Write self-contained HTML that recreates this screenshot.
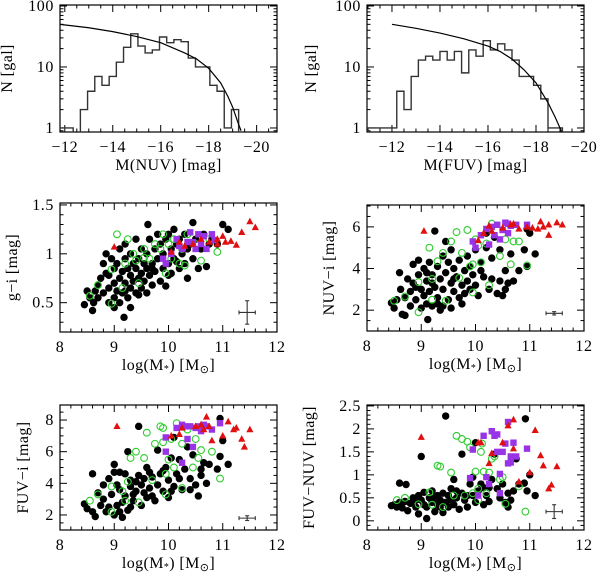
<!DOCTYPE html>
<html><head><meta charset="utf-8">
<style>
html,body{margin:0;padding:0;background:#fff;}
svg{display:block;font-family:"Liberation Serif",serif;}
</style></head>
<body>
<svg id="fig" width="600" height="574" viewBox="0 0 600 574" xmlns="http://www.w3.org/2000/svg"></svg>
<script>
// ---------- Histogram data ----------
const nuvBinStart = -11.75;
const nuvBinWidth = 0.3;
const nuvCounts = [1,1,0,2,4,7,5,7,12,21,35,22,17,19,31,25,28,26,14,10,10,5,4,1,2];
const nuvFitMag = [-11.8,-13,-14,-15,-16,-17,-17.5,-18,-18.5,-18.8,-19,-19.2,-19.35];
const nuvFitN = [50,44,38,31.5,25,17,13.5,9.5,5.5,3.3,2.2,1.3,0.9];

const fuvBinStart = -11.0;
const fuvBinWidth = 0.3;
const fuvCounts = [1,1,1,1,4,2,7,13,15,13,18,13,18,8,19,15,27,19,24,19,13,7,7,5,3,1,1];
const fuvFitMag = [-12,-13,-14,-15,-16,-16.5,-17,-17.5,-18,-18.5,-18.8,-19,-19.1];
const fuvFitN = [50,43,36,29,22,18,13.5,9,5.5,2.6,1.5,1,0.8];

// ---------- Scatter data: [log M*, colour] ----------
const giBlack = [[8.45,0.48],[8.5,0.62],[8.55,0.55],[8.6,0.42],[8.62,0.5],[8.65,0.62],[8.7,0.68],[8.7,0.55],[8.75,0.75],[8.8,0.9],[8.8,0.6],[8.85,0.8],[8.85,1.0],[8.9,0.78],[8.9,0.5],[8.95,0.95],[9.0,0.7],[9.0,0.85],[9.0,0.55],[9.05,0.62],[9.05,0.9],[9.1,0.75],[9.1,1.05],[9.1,0.5],[9.15,0.6],[9.15,0.82],[9.18,0.35],[9.2,0.7],[9.2,0.95],[9.2,1.1],[9.25,0.55],[9.25,0.85],[9.3,0.65],[9.3,0.78],[9.3,1.0],[9.35,0.9],[9.35,0.72],[9.4,0.6],[9.4,0.85],[9.4,1.15],[9.45,0.75],[9.45,0.95],[9.5,0.8],[9.5,0.65],[9.5,1.05],[9.55,0.9],[9.55,0.72],[9.6,0.85],[9.6,1.0],[9.62,1.3],[9.65,0.78],[9.65,1.15],[9.7,0.9],[9.7,0.68],[9.75,1.05],[9.75,0.82],[9.8,0.95],[9.8,1.2],[9.85,0.72],[9.85,1.1],[9.9,0.85],[9.9,1.0],[9.95,0.67],[9.95,1.15],[10.0,0.9],[10.0,1.2],[10.05,1.05],[10.05,0.8],[10.1,1.25],[10.1,0.95],[10.15,1.1],[10.2,0.85],[10.2,1.15],[10.25,1.0],[10.3,0.9],[10.3,1.2],[10.35,0.75],[10.4,1.1],[10.45,1.32],[10.45,0.95],[10.5,1.15],[10.55,0.85],[10.6,1.05],[10.65,1.2],[10.7,0.87],[10.75,1.1],[10.8,1.15],[10.9,1.1],[11.0,1.3],[11.1,1.25],[10.0,0.78],[9.6,0.6],[9.3,0.45],[9.0,0.45],[8.9,0.65],[9.2,0.62],[9.45,0.58],[9.7,0.85],[10.15,0.92],[10.35,1.05]];
const giGreen = [[8.55,0.57],[8.7,0.68],[8.95,0.84],[8.95,0.49],[9.05,1.2],[9.15,0.65],[9.2,0.9],[9.25,1.15],[9.4,0.93],[9.45,0.7],[9.55,1.05],[9.65,0.95],[9.75,1.1],[9.85,1.05],[9.9,1.2],[9.95,0.8],[10.0,1.1],[10.05,0.95],[10.1,1.15],[10.2,0.9],[10.25,1.05],[10.3,0.88],[10.35,1.2],[10.5,1.1],[10.6,0.93],[10.75,1.15],[10.9,1.02],[9.35,1.0],[9.55,0.96]];
const giPurple = [[9.9,0.95],[9.95,0.9],[10.15,1.15],[10.25,1.05],[10.4,1.22],[10.45,1.12],[10.55,1.2],[10.6,1.1],[10.65,1.18],[10.7,1.05],[10.8,1.2],[10.85,1.14],[10.5,1.05],[10.35,1.12],[10.2,1.08],[10.05,1.0]];
const giRed = [[9.0,1.07],[10.05,1.02],[10.2,1.12],[10.3,1.08],[10.6,1.15],[10.75,1.12],[10.9,1.1],[11.0,1.18],[11.05,1.12],[11.15,1.13],[11.25,1.09],[11.35,1.22],[11.5,1.33],[11.6,1.27],[10.9,1.15],[10.45,1.1]];
const giErr = [11.45,0.4,0.15,0.12];

const nuviBlack = [[8.45,2.35],[8.5,2.1],[8.55,2.5],[8.6,3.8],[8.62,3.0],[8.65,1.8],[8.7,2.6],[8.7,1.75],[8.75,3.5],[8.8,2.9],[8.8,2.2],[8.85,4.2],[8.85,3.3],[8.9,2.5],[8.95,4.4],[8.95,3.7],[9.0,3.0],[9.0,2.1],[9.05,4.0],[9.05,2.7],[9.1,3.4],[9.1,2.3],[9.12,1.55],[9.15,4.3],[9.15,2.9],[9.2,3.7],[9.2,2.2],[9.25,5.8],[9.25,3.1],[9.3,4.1],[9.3,2.6],[9.35,3.5],[9.35,2.0],[9.4,4.6],[9.4,3.0],[9.45,5.3],[9.45,3.8],[9.5,2.5],[9.5,4.3],[9.55,3.3],[9.55,2.1],[9.6,4.0],[9.6,2.9],[9.65,3.6],[9.7,4.4],[9.7,2.6],[9.75,3.2],[9.8,3.9],[9.8,2.8],[9.85,4.6],[9.85,3.4],[9.9,3.0],[9.9,4.1],[9.95,3.7],[10.0,4.9],[10.0,3.2],[10.05,2.7],[10.1,4.3],[10.15,3.6],[10.2,5.0],[10.25,3.0],[10.3,4.5],[10.35,5.5],[10.4,2.8],[10.45,3.4],[10.45,4.9],[10.5,2.7],[10.55,3.9],[10.6,3.3],[10.65,4.7],[10.7,3.4],[10.8,3.9],[10.9,4.9],[10.95,4.1],[11.0,5.7],[11.1,4.7],[10.95,5.9],[10.2,5.7],[9.55,4.9],[9.1,3.8],[8.9,3.1],[9.2,3.3],[9.3,2.3],[9.4,2.2],[9.6,3.5],[9.75,2.3],[10.1,3.9],[10.3,3.5],[10.55,3.0]];
const nuviGreen = [[8.5,2.45],[8.7,2.65],[8.95,1.9],[8.95,3.35],[9.15,5.0],[9.2,2.5],[9.2,3.5],[9.3,4.35],[9.4,4.75],[9.45,2.45],[9.55,5.3],[9.65,5.75],[9.7,3.55],[9.75,4.75],[9.85,5.85],[9.95,4.2],[9.95,2.85],[10.05,5.1],[10.1,4.3],[10.2,5.2],[10.25,3.2],[10.3,6.15],[10.45,4.6],[10.55,5.4],[10.65,4.2],[10.7,5.3],[10.8,5.3],[10.95,4.15],[10.0,5.4],[9.9,4.1]];
const nuviPurple = [[9.95,5.3],[10.0,5.0],[10.1,5.6],[10.2,5.9],[10.3,6.0],[10.35,5.6],[10.4,6.1],[10.5,5.85],[10.55,6.2],[10.6,5.7],[10.65,6.05],[10.75,6.1],[10.95,6.1],[10.45,5.4],[10.25,5.15],[10.6,6.15]];
const nuviRed = [[9.05,5.8],[10.05,5.35],[10.15,5.7],[10.25,6.05],[10.3,5.8],[10.5,5.95],[10.65,6.1],[10.8,5.9],[10.95,6.0],[11.05,5.95],[11.15,5.9],[11.25,6.0],[11.2,6.25],[11.35,6.1],[11.5,6.2],[11.6,6.1],[11.35,5.6],[10.7,6.15]];
const nuviErr = [11.45,1.85,0.15,0.08];

const fuviBlack = [[8.45,2.7],[8.5,2.4],[8.6,4.6],[8.6,2.2],[8.65,1.9],[8.7,3.4],[8.75,2.6],[8.8,3.0],[8.8,3.9],[8.85,2.2],[8.9,4.3],[8.95,3.3],[9.0,2.0],[9.0,4.7],[9.0,5.2],[9.05,2.6],[9.1,3.6],[9.1,4.7],[9.15,1.85],[9.15,2.8],[9.2,3.2],[9.2,4.6],[9.25,2.3],[9.25,6.0],[9.3,3.8],[9.3,4.2],[9.35,2.9],[9.4,3.5],[9.45,7.6],[9.45,4.5],[9.5,2.6],[9.5,3.9],[9.55,4.3],[9.6,3.1],[9.6,5.0],[9.65,3.7],[9.7,4.4],[9.75,2.9],[9.8,6.1],[9.8,3.9],[9.85,4.6],[9.9,3.5],[9.95,5.0],[10.0,4.2],[10.0,3.1],[10.05,5.6],[10.1,3.8],[10.1,6.9],[10.15,4.6],[10.2,5.5],[10.25,3.6],[10.3,4.9],[10.35,6.3],[10.4,4.3],[10.45,5.8],[10.5,3.9],[10.55,3.2],[10.6,4.9],[10.65,5.3],[10.7,4.0],[10.75,5.2],[10.9,4.9],[10.95,5.7],[10.95,8.1],[11.0,6.7],[11.1,5.2],[8.9,2.5],[9.1,2.2],[9.3,2.5],[9.4,4.1],[9.55,3.4],[9.7,3.2],[9.9,4.8],[10.2,4.3],[10.4,3.6],[10.6,4.5],[9.05,3.9],[9.35,3.3],[9.65,4.7],[10.05,3.5]];
const fuviGreen = [[8.55,2.9],[8.7,3.3],[8.95,2.2],[8.95,3.8],[9.15,3.5],[9.2,2.9],[9.25,4.1],[9.3,5.6],[9.4,6.0],[9.45,2.8],[9.55,5.6],[9.6,7.2],[9.7,4.2],[9.75,6.5],[9.85,7.6],[9.9,6.6],[9.95,4.6],[9.95,3.3],[10.0,5.5],[10.05,6.8],[10.1,5.0],[10.15,7.8],[10.25,6.5],[10.25,3.7],[10.35,7.4],[10.45,5.0],[10.5,6.8],[10.55,5.6],[10.6,6.1],[10.8,6.0],[10.95,4.3],[9.9,7.5]];
const fuviPurple = [[9.95,6.9],[9.95,6.0],[10.15,7.5],[10.25,5.3],[10.3,7.6],[10.35,6.8],[10.4,7.6],[10.45,6.3],[10.5,7.5],[10.55,7.6],[10.6,7.3],[10.7,7.6],[10.8,7.4],[10.95,7.8],[10.25,7.7],[10.65,7.7]];
const fuviRed = [[9.05,7.6],[10.05,7.0],[10.2,7.1],[10.25,7.5],[10.5,7.6],[10.6,7.7],[10.7,8.2],[10.75,7.6],[10.8,6.7],[11.0,7.0],[11.1,7.9],[11.2,7.4],[11.25,7.5],[11.35,6.8],[11.4,6.3],[11.5,7.4],[10.65,7.4]];
const fuviErr = [11.45,1.8,0.15,0.15];

const fnBlack = [[8.45,0.33],[8.5,0.35],[8.55,0.3],[8.6,0.82],[8.6,0.4],[8.65,0.28],[8.7,0.42],[8.72,0.79],[8.75,0.22],[8.8,0.38],[8.85,0.5],[8.9,0.3],[8.95,0.15],[8.95,0.55],[9.0,1.4],[9.0,0.45],[9.05,0.62],[9.1,0.3],[9.1,0.05],[9.15,0.5],[9.2,0.4],[9.2,0.65],[9.25,0.2],[9.3,0.55],[9.3,0.35],[9.35,0.45],[9.4,0.6],[9.4,0.18],[9.45,2.28],[9.45,0.4],[9.5,0.55],[9.5,0.3],[9.55,0.7],[9.55,0.45],[9.6,0.9],[9.6,0.35],[9.65,0.5],[9.7,0.25],[9.75,1.45],[9.75,0.6],[9.8,0.45],[9.85,0.3],[9.9,0.8],[9.95,0.55],[9.95,0.95],[10.0,1.7],[10.0,0.4],[10.05,0.65],[10.1,0.8],[10.15,0.35],[10.2,0.55],[10.25,0.42],[10.3,0.9],[10.35,1.45],[10.4,0.7],[10.45,0.5],[10.5,0.8],[10.55,0.4],[10.6,0.6],[10.65,0.45],[10.7,0.65],[10.75,1.35],[10.8,0.8],[10.9,0.82],[10.92,2.22],[10.95,0.65],[11.0,1.0],[11.1,0.55],[9.25,0.5],[9.65,0.65],[9.85,0.55],[10.15,0.72],[9.05,0.35],[9.35,0.3],[8.9,0.45],[10.6,0.3],[10.25,0.72]];
const fnGreen = [[8.55,0.45],[8.7,0.5],[8.95,0.36],[9.15,0.62],[9.2,0.35],[9.3,1.2],[9.35,1.18],[9.4,0.3],[9.55,1.05],[9.65,1.85],[9.75,1.78],[9.8,0.55],[9.85,1.72],[9.9,1.6],[9.95,0.6],[10.0,1.07],[10.05,0.7],[10.1,1.5],[10.15,1.07],[10.2,0.6],[10.25,1.05],[10.3,1.35],[10.35,1.4],[10.45,0.9],[10.5,0.95],[10.55,0.37],[10.8,0.75],[10.92,0.2],[10.05,0.45],[10.12,1.68],[9.6,0.55]];
const fnPurple = [[9.9,0.93],[9.95,1.55],[10.05,0.55],[10.15,1.85],[10.2,0.95],[10.25,0.8],[10.3,1.95],[10.35,1.85],[10.4,1.5],[10.45,1.02],[10.45,0.6],[10.5,1.5],[10.55,1.68],[10.6,2.15],[10.6,1.25],[10.65,1.4],[10.7,1.7],[10.75,1.4],[10.95,1.57],[10.65,1.27],[10.4,1.88]];
const fnRed = [[9.0,1.82],[10.05,1.7],[10.1,1.7],[10.25,1.25],[10.3,1.47],[10.5,1.7],[10.6,2.07],[10.7,2.2],[10.7,1.57],[10.8,0.85],[11.0,1.05],[11.1,1.97],[11.2,1.42],[11.25,1.2],[11.35,0.7],[11.4,0.78],[11.5,1.18]];
const fnErr = [11.45,0.2,0.15,0.15];

// tick labels
const magTicks = [-12,-14,-16,-18,-20];
const logNTicks = [1,10,100];
const massTicks = [8,9,10,11,12];
const giTicks = [0.5,1,1.5];
const nuviTicks = [2,4,6];
const fuviTicks = [2,4,6,8];
const fnTicks = [0,0.5,1,1.5,2,2.5];

const NS = 'http://www.w3.org/2000/svg';
const svg = document.getElementById('fig');
const FS = 16;
function mk(tag, attrs, parent){
  const e = document.createElementNS(NS, tag);
  for (const k in attrs) e.setAttribute(k, attrs[k]);
  (parent||svg).appendChild(e);
  return e;
}
function fmt(v){ const s = String(v); return v<0 ? '\u2212'+s.slice(1) : s; }

function makePanel(cfg){
  const g = mk('g', {});
  
  
  const {x0,x1,y0,y1} = cfg;
  const sx = v => x0 + (v - cfg.xd[0])/(cfg.xd[1]-cfg.xd[0])*(x1-x0);
  const syLin = v => y1 - (v - cfg.yd[0])/(cfg.yd[1]-cfg.yd[0])*(y1-y0);
  const sy = cfg.log ? (v => syLin(Math.log10(v))) : syLin;
  const cid = 'clip-'+cfg.name;
  const cp = mk('clipPath', {id:cid}, g);
  mk('rect', {x:x0, y:y0, width:x1-x0, height:y1-y0}, cp);
  const tg = mk('g', {stroke:'#000','stroke-width':1}, g);
  
  
  const xlo = Math.min(cfg.xd[0],cfg.xd[1]), xhi = Math.max(cfg.xd[0],cfg.xd[1]);
  for (let v = Math.ceil(xlo/cfg.xMinor-1e-6)*cfg.xMinor; v <= xhi+1e-6; v += cfg.xMinor){
    const major = Math.abs(v/cfg.xMajor - Math.round(v/cfg.xMajor)) < 1e-6;
    const L = major ? 7 : 3.5, px = sx(v);
    mk('line', {x1:px, x2:px, y1:y1, y2:y1-L}, tg);
    mk('line', {x1:px, x2:px, y1:y0, y2:y0+L}, tg);
  }
  if (cfg.log){
    for (let d = -1; d <= 2; d++) for (let m = 1; m < 10; m++){
      const v = m*Math.pow(10,d), lv = Math.log10(v);
      if (lv < cfg.yd[0] || lv > cfg.yd[1]) continue;
      const L = m===1 ? 7 : 3.5, py = sy(v);
      mk('line', {x1:x0, x2:x0+L, y1:py, y2:py}, tg);
      mk('line', {x1:x1, x2:x1-L, y1:py, y2:py}, tg);
    }
  } else {
    for (let v = Math.ceil(cfg.yd[0]/cfg.yMinor-1e-6)*cfg.yMinor; v <= cfg.yd[1]+1e-6; v += cfg.yMinor){
      const major = Math.abs(v/cfg.yMajor - Math.round(v/cfg.yMajor)) < 1e-6;
      const L = major ? 7 : 3.5, py = sy(v);
      mk('line', {x1:x0, x2:x0+L, y1:py, y2:py}, tg);
      mk('line', {x1:x1, x2:x1-L, y1:py, y2:py}, tg);
    }
  }
  const fr = mk('rect', {x:x0, y:y0, width:x1-x0, height:y1-y0, fill:'none', stroke:'#000','stroke-width':1.2}, g);
  
  
  cfg.xTicks.forEach(v => {
    const t = mk('text', {x:sx(v), y:y1+20, 'font-size':FS, 'letter-spacing':0.6, 'text-anchor':'middle'}, g);
    t.textContent = fmt(v);
    
    
  });
  cfg.yTicks.forEach(v => {
    const t = mk('text', {x:x0-6, y:sy(v)+5, 'font-size':FS, 'letter-spacing':0.6, 'text-anchor':'end'}, g);
    t.textContent = fmt(v);
    
    
  });
  const xt = mk('text', {x:(x0+x1)/2, y:y1+38, 'font-size':FS, 'letter-spacing':0.4, 'text-anchor':'middle'}, g);
  
  
  if (cfg.xTitle === 'mass'){
    xt.appendChild(document.createTextNode('log(M'));
    const s1 = mk('tspan', {'font-size':10, dy:2}, xt); s1.textContent='*';
    const s2 = mk('tspan', {dy:-2}, xt); s2.textContent=') [M';
    const s3 = mk('tspan', {'font-size':11, dy:3}, xt); s3.textContent='\u2299';
    const s4 = mk('tspan', {dy:-3}, xt); s4.textContent=']';
  } else xt.textContent = cfg.xTitle;
  const yc = (y0+y1)/2;
  const yt = mk('text', {x:cfg.ytx, y:yc, 'font-size':FS, 'letter-spacing':0.4, 'text-anchor':'middle', transform:`rotate(-90 ${cfg.ytx} ${yc})`}, g);
  yt.textContent = cfg.yTitle;
  
  
  const plot = mk('g', {'clip-path':`url(#${cid})`}, g);
  return {g: plot, sx, sy, cfg};
}

function drawHist(p, start, width, counts, name){
  const {sx, sy, cfg} = p;
  const bottom = cfg.y1 + 2;
  const yy = c => c > 0 ? sy(c) : bottom;
  let d = `M${sx(start)},${bottom}`;
  counts.forEach((c,i) => {
    const a = start - i*width, b = start - (i+1)*width;
    d += ` L${sx(a)},${yy(c)} L${sx(b)},${yy(c)}`;
  });
  d += ` L${sx(start - counts.length*width)},${bottom}`;
  const path = mk('path', {d, fill:'none', stroke:'#333', 'stroke-width':1.4}, p.g);
  
  
}
function drawCurve(p, xs, ys, name){
  const pts = xs.map((x,i) => `${p.sx(x)},${p.sy(ys[i])}`).join(' ');
  const pl = mk('polyline', {points:pts, fill:'none', stroke:'#000', 'stroke-width':1.2}, p.g);
  
  
}
function drawPoints(p, data, kind, name){
  const grp = mk('g', {}, p.g);
  
  
  data.forEach(([x,y]) => {
    const cx = p.sx(x), cy = p.sy(y);
    let e;
    if (kind === 'black') e = mk('circle', {cx, cy, r:3.7, fill:'#000'}, grp);
    else if (kind === 'green') e = mk('circle', {cx, cy, r:3.4, fill:'none', stroke:'#2ecc2e', 'stroke-width':1.1}, grp);
    else if (kind === 'purple') e = mk('rect', {x:cx-3.2, y:cy-3.2, width:6.4, height:6.4, fill:'#9933e6'}, grp);
    else e = mk('polygon', {points:`${cx},${cy-3.9} ${cx-3.6},${cy+2.7} ${cx+3.6},${cy+2.7}`, fill:'#e01010'}, grp);
    
    
  });
}
function drawErr(p, err){
  const [x,y,dx,dy] = err;
  const grp = mk('g', {stroke:'#333','stroke-width':1.1}, p.g);
  
  
  const cx=p.sx(x), cy=p.sy(y), xa=p.sx(x-dx), xb=p.sx(x+dx), ya=p.sy(y-dy), yb=p.sy(y+dy);
  mk('line',{x1:xa,x2:xb,y1:cy,y2:cy},grp);
  mk('line',{x1:cx,x2:cx,y1:ya,y2:yb},grp);
  mk('line',{x1:xa,x2:xa,y1:cy-2,y2:cy+2},grp);
  mk('line',{x1:xb,x2:xb,y1:cy-2,y2:cy+2},grp);
  mk('line',{x1:cx-2,x2:cx+2,y1:ya,y2:ya},grp);
  mk('line',{x1:cx-2,x2:cx+2,y1:yb,y2:yb},grp);
}

const pN = makePanel({name:'nuv-histogram', x0:60,x1:277,y0:5,y1:132, xd:[-11.8,-20.85], yd:[-0.066,2.016], log:true, xMajor:2, xMinor:0.5, xTicks:magTicks, yTicks:logNTicks, xTitle:'M(NUV) [mag]', yTitle:'N [gal]', ytx:12});
drawHist(pN, nuvBinStart, nuvBinWidth, nuvCounts, 'nuv-histogram-bars');
drawCurve(pN, nuvFitMag, nuvFitN, 'nuv-fit-curve');

const pF = makePanel({name:'fuv-histogram', x0:367,x1:584,y0:5,y1:132, xd:[-10.96,-20.0], yd:[-0.066,2.016], log:true, xMajor:2, xMinor:0.5, xTicks:magTicks, yTicks:logNTicks, xTitle:'M(FUV) [mag]', yTitle:'N [gal]', ytx:316});
drawHist(pF, fuvBinStart, fuvBinWidth, fuvCounts, 'fuv-histogram-bars');
drawCurve(pF, fuvFitMag, fuvFitN, 'fuv-fit-curve');

const panels = [
  {cfg:{name:'g-i-panel', x0:60,x1:277,y0:203,y1:332, xd:[8,12], yd:[0.2,1.52], xMajor:1, xMinor:0.2, yMajor:0.5, yMinor:0.1, xTicks:massTicks, yTicks:giTicks, xTitle:'mass', yTitle:'g\u2212i [mag]', ytx:17}, b:giBlack,gr:giGreen,pu:giPurple,r:giRed,e:giErr},
  {cfg:{name:'nuv-i-panel', x0:367,x1:584,y0:205,y1:331, xd:[8,12], yd:[1,7.05], xMajor:1, xMinor:0.2, yMajor:2, yMinor:0.5, xTicks:massTicks, yTicks:nuviTicks, xTitle:'mass', yTitle:'NUV\u2212i [mag]', ytx:334}, b:nuviBlack,gr:nuviGreen,pu:nuviPurple,r:nuviRed,e:nuviErr},
  {cfg:{name:'fuv-i-panel', x0:60,x1:277,y0:405,y1:530, xd:[8,12], yd:[1.05,8.95], xMajor:1, xMinor:0.2, yMajor:2, yMinor:0.5, xTicks:massTicks, yTicks:fuviTicks, xTitle:'mass', yTitle:'FUV\u2212i [mag]', ytx:28}, b:fuviBlack,gr:fuviGreen,pu:fuviPurple,r:fuviRed,e:fuviErr},
  {cfg:{name:'fuv-nuv-panel', x0:367,x1:584,y0:405,y1:530, xd:[8,12], yd:[-0.2,2.52], xMajor:1, xMinor:0.2, yMajor:0.5, yMinor:0.1, xTicks:massTicks, yTicks:fnTicks, xTitle:'mass', yTitle:'FUV\u2212NUV [mag]', ytx:314}, b:fnBlack,gr:fnGreen,pu:fnPurple,r:fnRed,e:fnErr}
];
panels.forEach(P => {
  const p = makePanel(P.cfg);
  drawPoints(p, P.b, 'black', P.cfg.name+'-black-galaxies');
  drawPoints(p, P.gr, 'green', P.cfg.name+'-green-galaxies');
  drawPoints(p, P.pu, 'purple', P.cfg.name+'-purple-galaxies');
  drawPoints(p, P.r, 'red', P.cfg.name+'-red-galaxies');
  drawErr(p, P.e);
});
</script>
</body></html>
